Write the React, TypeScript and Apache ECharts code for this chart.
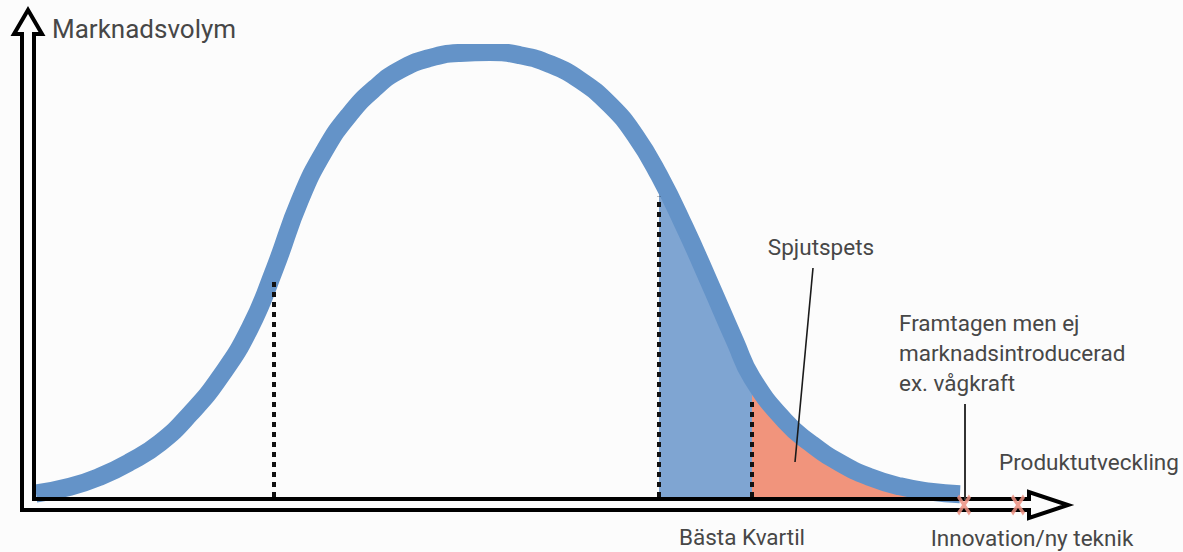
import React, { useEffect, useRef } from "react";
import * as echarts from "echarts";

// Curve (market volume): x = product development, y = volume (0..100)
const curveX = [0, 34, 64, 94, 124, 154, 184, 214, 239, 264, 289, 314, 339, 364, 394, 424, 454, 484, 514, 544, 574, 599, 623, 649, 674, 699, 716, 749, 774, 804, 834, 864, 894, 924];
const curveY = [0.8, 2.3, 4.6, 7.9, 12.2, 18.7, 27.0, 38.1, 51.6, 66.9, 78.2, 86.3, 92.1, 96.2, 98.9, 100.0, 100.2, 99.5, 97.5, 93.9, 88.3, 81.5, 72.5, 60.6, 48.0, 35.1, 26.8, 17.1, 12.2, 7.7, 4.5, 2.4, 1.2, 0.6];

// Section boundaries
const bestQuartileStart = 623;
const spearheadStart = 716;

// Dotted divider lines (x position, visible top)
const dividerX = [238, 623, 716];
const dividerTop = [48.9, 67.6, 22.3];

// Red X markers on the axis
const markerX = [928, 982];
const markerY = [-1.8, -1.8];

const FONT = "Roboto, 'Noto Sans', sans-serif";

export default function App() {
  const ref = useRef<HTMLDivElement>(null);
  useEffect(() => {
    if (!ref.current) return;
    const chart = echarts.init(ref.current, null, { renderer: "svg" });
    const curveData = curveX.map((x, i) => [x, curveY[i]]);
    const blueFill = curveData.filter((p) => p[0] >= bestQuartileStart && p[0] <= spearheadStart);
    const orangeFill = curveData.filter((p) => p[0] >= spearheadStart);
    const markers = markerX.map((x, i) => [x, markerY[i]]);

    const txt = (text: string, x: number, y: number, size: number, align = "left", extra: any = {}) => ({
      type: "text",
      x,
      y,
      z: 120,
      style: {
        text,
        font: `${size}px ${FONT}`,
        fill: "#474747",
        textAlign: align,
        align,
        textVerticalAlign: "middle",
        verticalAlign: "middle",
        ...extra,
      },
    });

    chart.setOption({
      animation: false,
      backgroundColor: "#fcfcfc",
      grid: { left: 36, right: 147, top: 53, bottom: 1.7 },
      xAxis: { type: "value", min: 0, max: 1000, show: false },
      yAxis: { type: "value", min: -12, max: 100, show: false },
      series: [
        {
          type: "line",
          data: blueFill,
          smooth: true,
          symbol: "none",
          z: 1,
          lineStyle: { width: 0 },
          areaStyle: { color: "#7fa5d2", opacity: 1 },
          silent: true,
        },
        {
          type: "line",
          data: orangeFill,
          smooth: true,
          symbol: "none",
          z: 1,
          lineStyle: { width: 0 },
          areaStyle: { color: "#f1947c", opacity: 1 },
          silent: true,
          markLine: {
            symbol: "none",
            silent: true,
            label: { show: false },
            lineStyle: { color: "#111", width: 4, type: [5, 5] },
            data: dividerX.map((x, i) => [{ coord: [x, 0] }, { coord: [x, dividerTop[i]] }]),
          },
        },
        {
          type: "line",
          data: curveData,
          smooth: true,
          symbol: "none",
          z: 3,
          lineStyle: { width: 18, color: "#6493c8", cap: "butt", join: "round" },
          silent: true,
        },
        {
          type: "scatter",
          data: markers,
          z: 130,
          symbol: "path://M0,1.5 L1.5,0 L5,3.6 L8.5,0 L10,1.5 L6.4,5 L10,8.5 L8.5,10 L5,6.4 L1.5,10 L0,8.5 L3.6,5 Z",
          symbolSize: [14, 21],
          itemStyle: { color: "#ec8f80", opacity: 0.85 },
          silent: true,
        },
      ],
      graphic: {
        elements: [
          {
            type: "polygon",
            z: 100,
            shape: {
              points: [
                [28, 10], [42, 34], [34, 34], [34, 499], [1029, 499], [1029, 492],
                [1068, 505], [1029, 518], [1029, 510], [22, 510], [22, 34], [14, 34],
              ],
            },
            style: { fill: "none", stroke: "#000", lineWidth: 4, lineJoin: "miter" },
          },
          {
            type: "line",
            z: 110,
            shape: { x1: 813, y1: 268, x2: 795, y2: 462 },
            style: { stroke: "#1a1a1a", lineWidth: 1.6 },
          },
          {
            type: "line",
            z: 110,
            shape: { x1: 965, y1: 404, x2: 965, y2: 500 },
            style: { stroke: "#333", lineWidth: 2 },
          },
          txt("Marknadsvolym", 52, 29, 26),
          txt("Spjutspets", 821, 247, 22.5, "center"),
          txt("Framtagen men ej\nmarknadsintroducerad\nex. vågkraft", 899, 353, 22.5, "left", { lineHeight: 30 }),
          txt("Produktutveckling", 999, 462, 22.5),
          txt("Innovation/ny teknik", 1032, 538, 22.5, "center"),
          txt("Bästa Kvartil", 742, 537, 22.5, "center"),
        ],
      },
    });
    return () => chart.dispose();
  }, []);
  return (
    <div
      ref={ref}
      style={{ position: "absolute", left: 0, top: 0, width: 1183, height: 552 }}
    />
  );
}
